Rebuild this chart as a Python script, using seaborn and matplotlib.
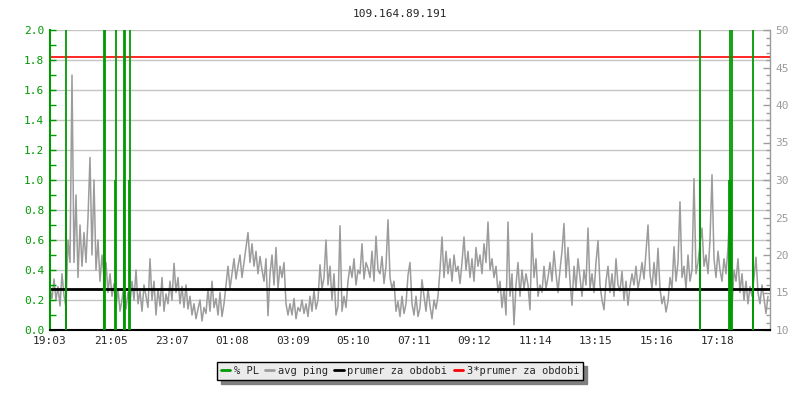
import numpy as np
import pandas as pd
import seaborn as sns
import matplotlib.pyplot as plt
from matplotlib.lines import Line2D

title = '109.164.89.191'

# avg ping [ms], one sample every 4 minutes starting 19:03
avg_ping = [
    15.5, 14.2, 16.8, 14.0, 15.8, 13.2, 17.5, 14.6, 13.0, 22.0, 19.0, 44.0, 19.0, 28.0, 17.0, 24.0, 18.5, 23.0, 19.0, 25.0,
    33.0, 20.0, 30.0, 18.0, 22.0, 16.5, 20.0, 17.0, 19.0, 15.0, 17.5, 14.5, 16.2, 13.0, 15.5, 12.5, 14.0, 16.0, 12.8, 15.0,
    13.5, 16.5, 14.0, 18.0, 13.5, 15.2, 12.5, 16.0, 14.5, 13.0, 19.5, 14.0, 16.5, 12.0, 15.5, 13.2, 17.0, 12.5, 14.8, 13.5,
    16.5, 14.0, 18.9, 15.0, 17.0, 13.5, 15.8, 13.0, 16.0, 12.8, 14.5, 12.0, 13.5, 11.5, 12.8, 14.0, 11.2, 13.0, 12.2, 15.5,
    12.5, 16.5, 13.0, 14.2, 12.0, 15.0, 11.8, 13.5, 16.0, 18.5, 15.5, 17.5, 19.5, 16.8, 18.5, 20.0, 17.0, 19.0, 21.0, 23.0,
    19.0, 21.5, 18.5, 20.5, 17.5, 19.8, 18.0, 16.5, 19.5, 11.9, 17.5, 20.0, 16.0, 21.0, 15.5, 18.5, 17.0, 19.0, 13.5, 12.0,
    13.5, 12.0, 14.2, 11.5, 13.0, 12.5, 14.0, 12.2, 13.5, 11.8, 14.5, 12.5, 15.3, 12.8, 14.0, 18.7, 15.5, 17.0, 22.0, 16.0,
    18.5, 14.0, 17.5, 12.0, 13.2, 23.9, 12.5, 14.5, 13.0, 16.5, 18.5, 17.0, 19.5, 16.0, 18.0, 17.5, 21.5, 16.8, 19.0, 18.2,
    17.0, 20.5, 16.5, 22.5, 18.0, 17.5, 19.8, 16.2, 18.5, 24.7, 17.0, 15.5, 16.5, 12.5, 13.8, 11.8, 14.5, 12.2, 13.5, 17.3,
    19.0, 13.5, 12.0, 14.5, 11.8, 13.0, 16.7, 14.5, 12.5, 15.5, 13.2, 11.5, 14.0, 12.8, 14.5, 18.0, 22.4, 17.0, 20.5, 17.5,
    19.5, 16.5, 20.0, 17.8, 18.5, 16.2, 19.0, 22.4, 18.0, 20.5, 17.0, 19.5, 16.5, 21.0, 18.5, 20.0, 17.5, 21.5, 19.0, 24.4,
    18.0, 19.5, 17.0, 18.5, 15.0, 16.5, 13.0, 15.5, 12.0, 24.4, 14.5, 17.5, 10.7, 16.0, 19.0, 14.5, 18.0, 15.5, 17.5, 16.0,
    12.7, 22.9, 17.0, 19.5, 14.5, 16.0, 15.0, 18.5, 15.5, 17.0, 19.0, 16.5, 20.5, 17.5, 15.0, 18.0, 20.5, 24.2, 17.0, 21.0,
    16.5, 13.3, 18.5, 15.5, 19.5, 17.0, 14.5, 18.0, 16.0, 23.6, 15.5, 17.5, 15.0, 19.0, 21.9, 16.0, 14.0, 12.7, 16.5, 18.5,
    15.0, 17.5, 14.5, 19.5, 16.0, 15.2, 17.8, 14.0, 16.5, 13.3, 15.8, 17.5, 16.0, 18.5, 15.5, 17.0, 19.0, 16.8, 20.5, 24.0,
    17.5, 15.5, 19.0, 16.0, 20.9, 15.5, 13.5, 14.5, 12.4, 13.8, 17.0, 15.5, 21.1, 16.5, 19.0, 27.1, 17.0, 18.5, 15.5, 20.0,
    16.5, 18.0, 30.2, 17.5, 19.0, 21.5, 23.6, 18.5, 20.0, 17.5, 22.0, 30.7, 19.5, 17.0, 20.5, 18.0, 16.5, 19.5, 17.5, 21.0,
    27.1, 13.0, 18.0, 16.5, 19.5, 15.0, 17.5, 14.0, 16.5, 13.5, 15.8, 14.5, 17.0, 19.7, 15.0, 13.5, 16.0, 14.2, 12.2, 14.5,
]
step_min = 4

# packet loss spikes [minutes after 19:03], [%]
pl_minutes = [31, 32, 107, 108, 109, 130, 131, 147, 148, 149, 158, 159,
              1299, 1300, 1357, 1359, 1361, 1363, 1405, 1406]
pl_values = [1.0, 4.0, 4.0, 1.0, 4.0, 1.0, 4.0, 4.0, 1.0, 4.0, 1.0, 4.0,
             1.0, 4.0, 1.0, 4.0, 1.0, 4.0, 1.0, 4.0]

period_avg = 15.47  # ms

tick_labels = ['19:03', '21:05', '23:07', '01:08', '03:09', '05:10',
               '07:11', '09:12', '11:14', '13:15', '15:16', '17:18']

GREEN = '#009a00'
GRAY = '#9c9c9c'
GRID = '#c4c4c4'

df = pd.DataFrame({'minute': np.arange(len(avg_ping)) * step_min, 'ping': avg_ping})


def to_minutes(label, start='19:03'):
    h, m = map(int, label.split(':'))
    h0, m0 = map(int, start.split(':'))
    return ((h * 60 + m) - (h0 * 60 + m0)) % 1440


sns.set_style('white')
plt.rcParams['font.family'] = ['DejaVu Sans Mono']

fig = plt.figure(figsize=(8, 4), dpi=100)
ax = fig.add_axes([0.0625, 0.175, 0.9, 0.75])
ax2 = ax.twinx()
ax.set_zorder(ax2.get_zorder() + 1)
ax.patch.set_visible(False)

# grid lines every 0.2 on the left scale (= every 4 ms on the right one)
ax2.hlines(np.arange(10, 51, 4), 0, 1440, color=GRID, lw=1, zorder=0)

sns.lineplot(data=df, x='minute', y='ping', ax=ax2, color=GRAY, linewidth=1.1,
             estimator=None, zorder=2)
ax2.axhline(period_avg, color='black', lw=2, zorder=3)
ax2.axhline(3 * period_avg, color='red', lw=1.2, zorder=3)

ax.vlines(pl_minutes, 0, pl_values, color=GREEN, lw=1.3, zorder=4)

ax.set_xlim(0, 1440)
ax.set_ylim(0, 2)
ax2.set_ylim(10, 50)

ax.set_xticks([to_minutes(t) for t in tick_labels])
ax.set_xticklabels(tick_labels)
ax.set_yticks(np.arange(0, 2.01, 0.2))
ax.set_yticklabels([f'{v:.1f}' for v in np.arange(0, 2.01, 0.2)])
ax.set_yticks(np.arange(0, 2.01, 0.1), minor=True)
ax.tick_params(axis='y', which='both', direction='in', length=4, width=1,
               color=GREEN, labelcolor=GREEN, labelsize=8, pad=4)
ax.tick_params(axis='x', direction='in', length=5, width=1, color='black',
               labelsize=8, pad=4)

ax2.set_yticks(np.arange(10, 51, 5))
ax2.set_yticks(np.arange(10, 51, 1), minor=True)
ax2.tick_params(axis='y', which='major', direction='in', length=5, width=1,
                color=GRAY, labelcolor=GRAY, labelsize=8, pad=4)
ax2.tick_params(axis='y', which='minor', direction='in', length=3, width=1, color=GRAY)

ax.set_xlabel('')
ax.set_ylabel('')
ax2.set_xlabel('')
ax2.set_ylabel('')

for s in ['top', 'right']:
    ax.spines[s].set_visible(False)
ax.spines['left'].set_color(GREEN)
ax.spines['left'].set_linewidth(1.5)
ax.spines['bottom'].set_color('black')
ax.spines['bottom'].set_linewidth(1.5)
for s in ['top', 'left', 'bottom']:
    ax2.spines[s].set_visible(False)
ax2.spines['right'].set_color(GRAY)
ax2.spines['right'].set_linewidth(1)

fig.text(0.5, 0.965, title, ha='center', va='center', fontsize=8)

handles = [Line2D([], [], color=c, lw=2) for c in [GREEN, GRAY, 'black', 'red']]
labels = ['% PL', 'avg ping', 'prumer za obdobi', '3*prumer za obdobi']
fig.legend(handles, labels, loc='center', bbox_to_anchor=(0.5, 0.0725), ncol=4,
           fontsize=7.5, frameon=True, fancybox=False, edgecolor='black',
           facecolor='#ebebeb', framealpha=1, handlelength=0.9, handletextpad=0.35,
           columnspacing=0.6, borderpad=0.4,
           shadow={'ox': 3, 'oy': -3, 'color': '#808080', 'alpha': 1})

fig.savefig('out.png', dpi=100)
